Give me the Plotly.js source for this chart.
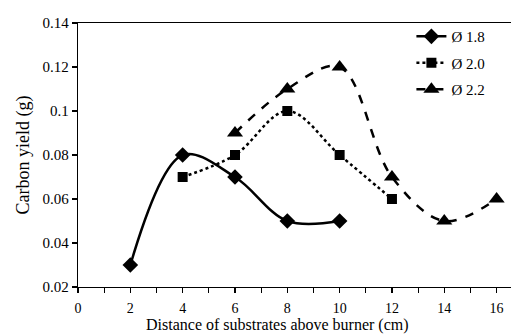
<!DOCTYPE html>
<html>
<head>
<meta charset="utf-8">
<script src="https://cdn.plot.ly/plotly-3.0.1.min.js"></script>
<style>
html,body{margin:0;padding:0;background:#fff;}
#chart{width:511px;height:335px;}
</style>
</head>
<body>
<div id="chart"></div>
<script>
// Data
var seriesNames = ["\u00D8 1.8", "\u00D8 2.0", "\u00D8 2.2"];
var x18 = [2, 4, 6, 8, 10];
var y18 = [0.03, 0.08, 0.07, 0.05, 0.05];
var x20 = [4, 6, 8, 10, 12];
var y20 = [0.07, 0.08, 0.10, 0.08, 0.06];
var x22 = [6, 8, 10, 12, 14, 16];
var y22 = [0.09, 0.11, 0.12, 0.07, 0.05, 0.06];
var xTickVals = [0, 2, 4, 6, 8, 10, 12, 14, 16];
var xTickText = ["0", "2", "4", "6", "8", "10", "12", "14", "16"];
var yTickVals = [0.02, 0.04, 0.06, 0.08, 0.10, 0.12, 0.14];
var yTickText = ["0.02", "0.04", "0.06", "0.08", "0.1", "0.12", "0.14"];
var xTitle = "Distance of substrates above burner (cm)";
var yTitle = "Carbon yield (g)";

var serif = "Liberation Serif, Times New Roman, serif";

var traces = [
  {x: x18, y: y18, name: seriesNames[0], type: "scatter", mode: "lines+markers",
   line: {color: "#000", width: 2.5, shape: "spline", smoothing: 1},
   marker: {symbol: "diamond", size: 12, color: "#000"}, legendgroup: "a"},
  {x: x20, y: y20, name: seriesNames[1], type: "scatter", mode: "lines+markers",
   line: {color: "#000", width: 2.5, dash: "dot", shape: "spline", smoothing: 1},
   marker: {symbol: "square", size: 10, color: "#000"}, legendgroup: "b"},
  {x: x22, y: y22, name: seriesNames[2], type: "scatter", mode: "lines+markers",
   line: {color: "#000", width: 2.5, dash: "dash", shape: "spline", smoothing: 1},
   marker: {symbol: "triangle-up", size: 14, color: "#000"}, legendgroup: "c"}
];

var layout = {
  width: 511, height: 335,
  margin: {l: 78, r: 0, t: 23, b: 48},
  paper_bgcolor: "#fff", plot_bgcolor: "#fff",
  font: {family: serif, color: "#000", size: 14},
  showlegend: true,
  legend: {x: 0.77, y: 1.011, xanchor: "left", yanchor: "top",
           bgcolor: "rgba(0,0,0,0)", font: {family: serif, size: 15, color: "#000"},
           traceorder: "grouped", tracegroupgap: 4, itemwidth: 30},
  xaxis: {
    range: [0, 16.55], showgrid: false, zeroline: false,
    showline: true, linecolor: "#000", linewidth: 1.3, mirror: true,
    ticks: "outside", ticklen: 5, tickwidth: 1.2, tickcolor: "#000",
    tickvals: xTickVals, ticktext: xTickText, ticklabelstandoff: 3,
    minor: {dtick: 1, tick0: 0, ticks: "outside", ticklen: 5, tickwidth: 1.2, tickcolor: "#000", showgrid: false},
    tickfont: {family: serif, size: 14}
  },
  yaxis: {
    range: [0.02, 0.14], showgrid: false, zeroline: false,
    showline: true, linecolor: "#000", linewidth: 1.3,
    ticks: "outside", ticklen: 5, tickwidth: 1.2, tickcolor: "#000",
    tickvals: yTickVals, ticktext: yTickText,
    tickfont: {family: serif, size: 15},
    title: {text: yTitle, font: {family: serif, size: 18}, standoff: 8}
  },
  annotations: [
    {text: xTitle, xref: "paper", yref: "paper", x: 0.46, y: -0.145,
     xanchor: "center", yanchor: "middle", showarrow: false,
     font: {family: serif, size: 16, color: "#000"}}
  ]
};

Plotly.newPlot("chart", traces, layout, {displayModeBar: false, staticPlot: true});
</script>
</body>
</html>
